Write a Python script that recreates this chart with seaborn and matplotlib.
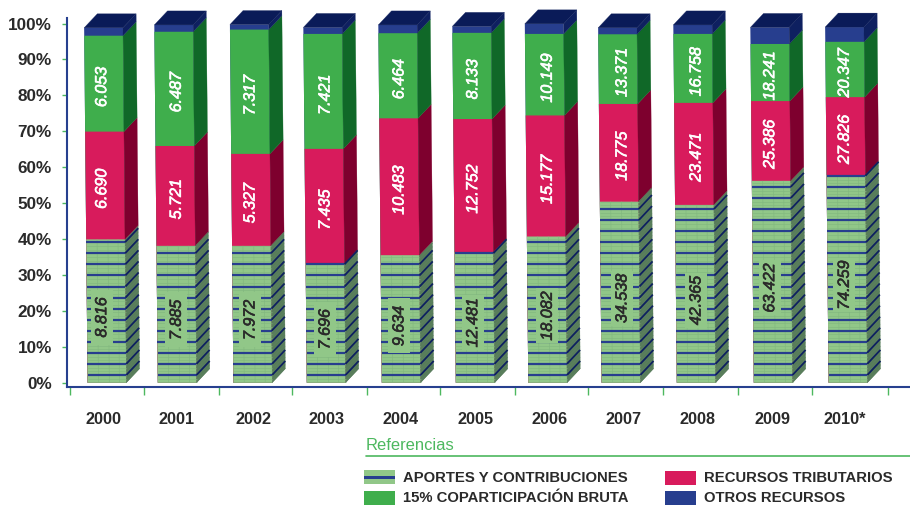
import numpy as np
import pandas as pd
import matplotlib
matplotlib.use("Agg")
import matplotlib.pyplot as plt
import matplotlib.patheffects as pe
from matplotlib.collections import LineCollection
from matplotlib.patches import Polygon, Rectangle
from matplotlib.transforms import Affine2D
import seaborn as sns

# ---- data ----
years = ["2000", "2001", "2002", "2003", "2004", "2005", "2006", "2007", "2008", "2009", "2010*"]
aportes = [39.9, 38.1, 38.1, 33.1, 35.5, 36.3, 40.7, 50.4, 49.5, 56.2, 57.8]
tributarios = [30.0, 27.8, 25.6, 32.0, 38.1, 37.1, 33.7, 27.2, 28.4, 22.2, 21.7]
coparticipacion = [26.7, 31.8, 34.6, 32.0, 23.7, 24.0, 22.7, 19.4, 19.2, 15.9, 15.4]
otros = [2.2, 1.9, 1.4, 1.8, 2.3, 1.8, 2.8, 1.8, 2.5, 4.6, 4.1]
labels_aportes = ["8.816", "7.885", "7.972", "7.696", "9.634", "12.481", "18.082", "34.538", "42.365", "63.422", "74.259"]
labels_tributarios = ["6.690", "5.721", "5.327", "7.435", "10.483", "12.752", "15.177", "18.775", "23.471", "25.386", "27.826"]
labels_copart = ["6.053", "6.487", "7.317", "7.421", "6.464", "8.133", "10.149", "13.371", "16.758", "18.241", "20.347"]

# ---- layout (figure pixels) ----
bar_x = [103.5, 173.7, 249.3, 322.7, 397.7, 471.7, 544.2, 617.5, 692.7, 769.7, 844.5]
label_x = [104, 177, 253, 326.7, 401, 475.3, 549.7, 623.7, 698, 772.3, 845]
value_x = [101.7, 176.3, 250, 325, 399, 472.7, 547.3, 622, 696, 769.7, 844.3]
sep_x = [70, 144, 218.7, 292, 366.7, 440, 515, 588.3, 663.3, 738.3, 811.7, 888]
aportes_label_y = [18.2, 17.5, 17.5, 14.9, 15.8, 16.7, 18.6, 23.5, 22.9, 26.4, 27.2]
BAR_W = 38.8
DX, DY = 13.3, 3.9
STRIPE0, STRIPE_STEP = 2.14, 3.08

GREEN_TICK = "#4DB85F"
AXIS_BLUE = "#27408F"
INK = "#2A2A2A"
C_AP, C_AP_S = "#91C788", "#5A7F5C"
C_RED, C_RED_S = "#D81B5C", "#7E002E"
C_GRN, C_GRN_S = "#3FAE4C", "#106828"
C_BLU, C_BLU_S = "#273E8E", "#0E2060"
C_TOP = "#0A1B58"
C_GRID = "#82B87F"

sns.set_theme(style="white")
plt.rcParams["font.family"] = ["Liberation Sans", "DejaVu Sans"]

W, H = 910, 507
fig = plt.figure(figsize=(W / 100, H / 100), dpi=100)
ax = fig.add_axes([66.7 / W, 1 - 386.7 / H, (910 - 66.7) / W, (386.7 - 18.3) / H])
pct_px = 3.592

df = pd.DataFrame({"x": bar_x, "a": aportes, "t": tributarios, "c": coparticipacion, "o": otros})
df["s1"] = df["a"]
df["s2"] = df["s1"] + df["t"]
df["s3"] = df["s2"] + df["c"]
df["s4"] = df["s3"] + df["o"]

width_frac = BAR_W / (bar_x[1] - bar_x[0])
for col, color in [("s4", C_BLU), ("s3", C_GRN), ("s2", C_RED), ("s1", C_AP)]:
    sns.barplot(data=df, x="x", y=col, native_scale=True, color=color, saturation=1,
                width=width_frac, errorbar=None, ax=ax, linewidth=0)

ax.set_xlim(66.7, 910)
ax.set_ylim((382.7 - 386.7) / pct_px, (382.7 - 18.3) / pct_px)
ax.set_xlabel("")
ax.set_ylabel("")

# the original's faces lean slightly: x shifts by 3.5 px from top to base
lean = Affine2D(np.array([[1, -0.035, 3.5], [0, 1, 0], [0, 0, 1]], dtype=float)) + ax.transData
for p in ax.patches:
    p.set_transform(lean)


def face(points, color, z=1.0):
    ax.add_patch(Polygon(points, closed=True, facecolor=color, edgecolor=color, linewidth=0.2,
                         transform=lean, clip_on=False, zorder=z))


front_lines, grid_lines, side_lines, side_grid = [], [], [], []
for i, row in df.iterrows():
    l, r = row["x"] - BAR_W / 2, row["x"] + BAR_W / 2
    levels = [(0, row["s1"], C_AP_S), (row["s1"], row["s2"], C_RED_S),
              (row["s2"], row["s3"], C_GRN_S), (row["s3"], row["s4"], C_BLU_S)]
    for y0, y1, color in levels:
        face([(r, y0), (r, y1), (r + DX, y1 + DY), (r + DX, y0 + DY)], color)
    top = row["s4"]
    face([(l, top), (r, top), (r + DX, top + DY), (l + DX, top + DY)], C_TOP)

    # brick texture of the first series
    n = 0
    while STRIPE0 + n * STRIPE_STEP <= row["s1"]:
        y = STRIPE0 + n * STRIPE_STEP
        front_lines.append([(l, y), (r, y)])
        side_lines.append([(r, y), (r + DX, y + DY)])
        n += 1
    thin = STRIPE0 - STRIPE_STEP + np.arange(1, 80) * STRIPE_STEP / 3
    for y in thin[thin < row["s1"]]:
        grid_lines.append([(l, y), (r, y)])
        side_grid.append([(r, y), (r + DX, y + DY)])
    for f in (0.28, 0.56, 0.82):
        grid_lines.append([(l + f * BAR_W, 0), (l + f * BAR_W, row["s1"])])

ax.add_collection(LineCollection(grid_lines, colors=C_GRID, linewidths=0.45, transform=lean, zorder=1.5), autolim=False)
ax.add_collection(LineCollection(side_grid, colors="#557A5A", linewidths=0.4, transform=lean, zorder=1.5), autolim=False)
ax.add_collection(LineCollection(front_lines, colors=C_BLU, linewidths=1.6, transform=lean, zorder=1.6), autolim=False)
ax.add_collection(LineCollection(side_lines, colors=C_BLU_S, linewidths=1.3, transform=lean, zorder=1.6), autolim=False)

# value labels
y_nudge = 0.9


def value_text(x, y, text, color):
    ax.text(x, y, text, color=color, rotation=90, ha="center", va="center", style="italic",
            fontsize=11.6, zorder=3, path_effects=[pe.withStroke(linewidth=0.45, foreground=color)])


for i, row in df.iterrows():
    cx = value_x[i]
    value_text(cx, (row["s1"] + row["s2"]) / 2 - y_nudge, labels_tributarios[i], "white")
    value_text(cx, (row["s2"] + row["s3"]) / 2 - y_nudge, labels_copart[i], "white")
    ax.add_patch(Rectangle((cx - 11, aportes_label_y[i] - 7.65), 22, 15.3, facecolor=C_AP, edgecolor="none", zorder=2))
    value_text(cx, aportes_label_y[i], labels_aportes[i], INK)

# axes furniture
for s in ("top", "right"):
    ax.spines[s].set_visible(False)
for s in ("left", "bottom"):
    ax.spines[s].set_color(AXIS_BLUE)
    ax.spines[s].set_linewidth(1.5)
ax.set_yticks(np.arange(0, 101, 10))
ax.set_yticklabels([f"{v}%" for v in range(0, 101, 10)], fontsize=12.3, fontweight="bold", color=INK)
ax.tick_params(axis="y", left=True, length=3.6, width=1.0, color=GREEN_TICK, pad=7)
ax.set_xticks(label_x)
ax.set_xticklabels(years, fontsize=11.7, fontweight="bold", color=INK)
ax.tick_params(axis="x", which="major", bottom=False, length=0, pad=18)
ax.set_xticks(sep_x, minor=True)
ax.tick_params(axis="x", which="minor", bottom=True, length=5.5, width=1.0, color=GREEN_TICK, pad=0)

# references block, drawn in pixel coordinates of the figure
ov = fig.add_axes([0, 0, 1, 1], zorder=5)
ov.set_xlim(0, W)
ov.set_ylim(H, 0)
ov.axis("off")
ov.text(366, 446, "Referencias", color=GREEN_TICK, fontsize=11.9, va="center", ha="left")
ov.plot([366, 910], [456, 456], color=GREEN_TICK, lw=1.2)
entries = [(364, 470, 403, "APORTES Y CONTRIBUCIONES", C_AP), (364, 491, 403, "15% COPARTICIPACIÓN BRUTA", C_GRN),
           (665, 471, 704, "RECURSOS TRIBUTARIOS", C_RED), (665, 491, 704, "OTROS RECURSOS", C_BLU)]
for sx, sy, tx, name, color in entries:
    ov.add_patch(Rectangle((sx, sy), 30.5, 14, facecolor=color, edgecolor="none"))
    ov.text(tx, sy + 7.5, name, color=INK, fontsize=10.75, fontweight="bold", va="center", ha="left")
ov.add_patch(Rectangle((364, 476), 30.5, 2.5, facecolor=C_BLU, edgecolor="none"))

fig.savefig("out.png", dpi=100)
